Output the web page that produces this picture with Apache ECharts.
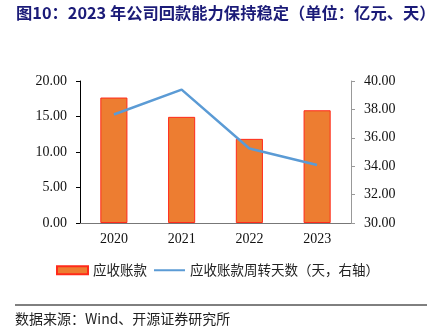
<!DOCTYPE html>
<html><head><meta charset="utf-8">
<script src="https://cdn.jsdelivr.net/npm/echarts@6/dist/echarts.min.js"></script>
<style>html,body{margin:0;padding:0;background:#fff;}#c{width:435px;height:335px;}</style>
</head><body><div id="c"></div>
<script>
var categories = ['2020','2021','2022','2023'];
var receivables = [17.67, 14.95, 11.85, 15.88];
var turnoverDays = [37.64, 39.39, 35.25, 34.08];
var leftTicks = {min:0, max:20, interval:5};
var rightTicks = {min:30, max:40, interval:2};

var chart = echarts.init(document.getElementById('c'), null, {renderer:'canvas'});
var serif = 'Liberation Serif, Times New Roman, serif';
var cjk = 'Noto Sans CJK SC';
chart.setOption({
  animation:false,
  backgroundColor:'#fff',
  graphic:[
    {type:'text', left:16, top:5, style:{text:'图10：2023 年公司回款能力保持稳定（单位：亿元、天）', font:'bold 16.3px "Noto Sans CJK SC"', fill:'#1b1b78'}},
    {type:'line', shape:{x1:15, y1:305, x2:427, y2:305}, style:{stroke:'#000', lineWidth:1}},
    {type:'text', left:15, top:312, style:{text:'数据来源：Wind、开源证券研究所', font:'14px "Noto Sans CJK SC"', fill:'#222'}}
  ],
  grid:{left:80, right:84, top:81, bottom:112},
  legend:{
    bottom:53, left:'center', itemGap:6, itemWidth:31, itemHeight:8,
    textStyle:{fontFamily:cjk, fontSize:13.5, color:'#222'},
    data:[{name:'应收账款', icon:'rect'}, {name:'应收账款周转天数（天，右轴）', itemStyle:{opacity:0}}]
  },
  xAxis:{
    type:'category', data:categories,
    axisLine:{lineStyle:{color:'#777'}},
    axisTick:{inside:true, length:4, lineStyle:{color:'#777'}},
    axisLabel:{fontFamily:serif, fontSize:14, color:'#111', margin:9}
  },
  yAxis:[
    {type:'value', min:leftTicks.min, max:leftTicks.max, interval:leftTicks.interval,
     axisLine:{show:true, lineStyle:{color:'#000'}}, axisTick:{show:true, length:4, lineStyle:{color:'#000'}},
     splitLine:{show:false},
     axisLabel:{fontFamily:serif, fontSize:14, color:'#111', margin:13, formatter:function(v){return v.toFixed(2);}}},
    {type:'value', min:rightTicks.min, max:rightTicks.max, interval:rightTicks.interval,
     axisLine:{show:true, lineStyle:{color:'#999'}}, axisTick:{show:true, length:4, lineStyle:{color:'#999'}},
     splitLine:{show:false},
     axisLabel:{fontFamily:serif, fontSize:14, color:'#111', margin:13, formatter:function(v){return v.toFixed(2);}}}
  ],
  series:[
    {name:'应收账款', type:'bar', data:receivables, barWidth:'40%', yAxisIndex:0,
     itemStyle:{color:'#ED7D31', borderColor:'#FF2A1A', borderWidth:1}},
    {name:'应收账款周转天数（天，右轴）', type:'line', data:turnoverDays, yAxisIndex:1,
     symbol:'none', lineStyle:{color:'#5B9BD5', width:2.5}, itemStyle:{color:'#5B9BD5'}}
  ]
});
</script></body></html>
